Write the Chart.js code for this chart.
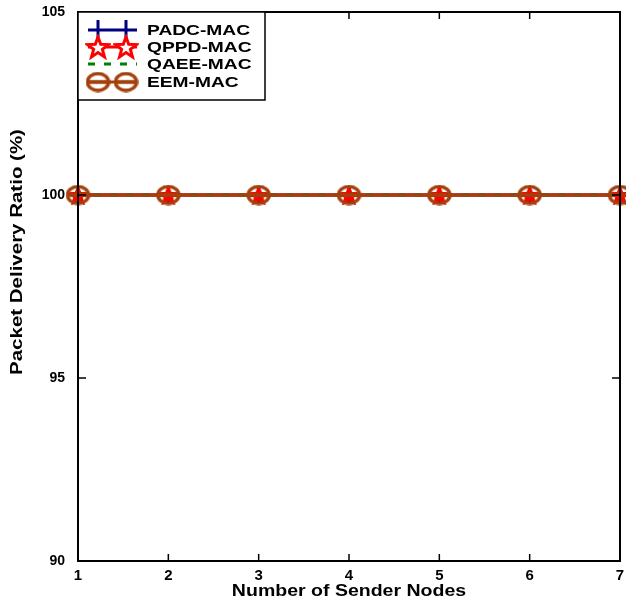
<!DOCTYPE html>
<html>
<head>
<meta charset="utf-8">
<script src="https://cdn.jsdelivr.net/npm/chart.js@4.4.0/dist/chart.umd.min.js"></script>
<style>
  html, body { margin: 0; padding: 0; background: #fff; }
</style>
</head>
<body>
<canvas id="pdrChart" width="626" height="602"></canvas>
<script>
// x: number of sender nodes, y: packet delivery ratio (%)
var senderNodes = [1, 2, 3, 4, 5, 6, 7];
var padcMac = [100, 100, 100, 100, 100, 100, 100];
var qppdMac = [100, 100, 100, 100, 100, 100, 100];
var qaeeMac = [100, 100, 100, 100, 100, 100, 100];
var eemMac  = [100, 100, 100, 100, 100, 100, 100];
var yTicks = [90, 95, 100, 105];

var NAVY = '#000080', RED = '#ff0000', GREEN = '#008000', BROWN = '#a3400c';
var FONT = '"Liberation Sans", Arial, sans-serif';

// marker images
function starMarker(size, fill) {
    var c = document.createElement('canvas');
    c.width = c.height = size;
    var g = c.getContext('2d');
    var cx = size / 2, cy = size / 2 + 1, ro = size / 2 - 2, ri = ro * 0.42;
    g.beginPath();
    for (var i = 0; i < 10; i++) {
        var r = i % 2 === 0 ? ro : ri;
        var a = -Math.PI / 2 + i * Math.PI / 5;
        g.lineTo(cx + r * Math.cos(a), cy + r * Math.sin(a));
    }
    g.closePath();
    g.fillStyle = fill;
    g.fill();
    g.lineWidth = 3;
    g.strokeStyle = RED;
    g.stroke();
    return c;
}

function thetaMarker(w, h) {
    var c = document.createElement('canvas');
    c.width = w; c.height = h;
    var g = c.getContext('2d');
    g.strokeStyle = BROWN;
    g.lineWidth = 3.5;
    g.beginPath();
    g.ellipse(w / 2, h / 2, w / 2 - 2, h / 2 - 2, 0, 0, Math.PI * 2);
    g.stroke();
    g.beginPath();
    g.moveTo(2, h / 2);
    g.lineTo(w - 2, h / 2);
    g.stroke();
    return c;
}

var starImg = starMarker(20, RED);
var starLegendImg = starMarker(26, '#fff');
var thetaImg = thetaMarker(25, 21);

function toPoints(ys) {
    return senderNodes.map(function (x, i) { return { x: x, y: ys[i] }; });
}

// stretched bold text (the labels are drawn wider than the font's own width)
function wideText(ctx, text, x, y, sx) {
    ctx.save();
    ctx.translate(x, y);
    ctx.scale(sx, 1);
    ctx.fillText(text, 0, 0);
    ctx.restore();
}

// box around the plot with inward ticks
var framePlugin = {
    id: 'frame',
    afterDatasetsDraw: function (chart) {
        var ctx = chart.ctx, a = chart.chartArea;
        var xs = chart.scales.x, ys = chart.scales.y;
        ctx.save();
        ctx.strokeStyle = '#000';
        ctx.lineWidth = 2;
        ctx.strokeRect(a.left, a.top, a.right - a.left, a.bottom - a.top);
        ctx.lineWidth = 1.5;
        ctx.beginPath();
        senderNodes.forEach(function (v) {
            var px = xs.getPixelForValue(v);
            ctx.moveTo(px, a.bottom); ctx.lineTo(px, a.bottom - 7);
            ctx.moveTo(px, a.top); ctx.lineTo(px, a.top + 7);
        });
        yTicks.forEach(function (v) {
            var py = ys.getPixelForValue(v);
            ctx.moveTo(a.left, py); ctx.lineTo(a.left + 8, py);
            ctx.moveTo(a.right, py); ctx.lineTo(a.right - 8, py);
        });
        ctx.stroke();
        ctx.restore();
    }
};

// legend box in the top-left corner and axis titles
var legendPlugin = {
    id: 'boxLegend',
    afterDraw: function (chart) {
        var ctx = chart.ctx, a = chart.chartArea;
        ctx.save();
        var bx = a.left, by = a.top, bw = 187, bh = 88;
        ctx.fillStyle = '#fff';
        ctx.fillRect(bx, by, bw, bh);
        ctx.strokeStyle = '#000';
        ctx.lineWidth = 1.5;
        ctx.strokeRect(bx, by, bw, bh);

        var rows = [
            { label: 'PADC-MAC', y: by + 18 },
            { label: 'QPPD-MAC', y: by + 35 },
            { label: 'QAEE-MAC', y: by + 52 },
            { label: 'EEM-MAC',  y: by + 70 }
        ];
        var x0 = bx + 10, x1 = bx + 59, m1 = bx + 20, m2 = bx + 48;

        // PADC: navy line with plus markers
        ctx.strokeStyle = NAVY; ctx.lineWidth = 3;
        ctx.beginPath();
        ctx.moveTo(x0, rows[0].y); ctx.lineTo(x1, rows[0].y);
        [m1, m2].forEach(function (m) {
            ctx.moveTo(m, rows[0].y - 10); ctx.lineTo(m, rows[0].y + 10);
        });
        ctx.stroke();

        // QPPD: red line with stars
        ctx.strokeStyle = RED;
        ctx.beginPath();
        ctx.moveTo(x0, rows[1].y); ctx.lineTo(x1, rows[1].y);
        ctx.stroke();
        [m1, m2].forEach(function (m) {
            ctx.drawImage(starLegendImg, m - 13, rows[1].y - 13);
        });

        // QAEE: green dashed
        ctx.strokeStyle = GREEN;
        ctx.setLineDash([7, 9]);
        ctx.beginPath();
        ctx.moveTo(x0, rows[2].y); ctx.lineTo(x1, rows[2].y);
        ctx.stroke();
        ctx.setLineDash([]);

        // EEM: brown line with theta markers
        ctx.strokeStyle = BROWN;
        ctx.beginPath();
        ctx.moveTo(x0, rows[3].y); ctx.lineTo(x1, rows[3].y);
        ctx.stroke();
        [m1, m2].forEach(function (m) {
            ctx.drawImage(thetaImg, m - 12.5, rows[3].y - 10.5);
        });

        ctx.fillStyle = '#000';
        ctx.font = 'bold 15px ' + FONT;
        ctx.textBaseline = 'middle';
        ctx.textAlign = 'left';
        rows.forEach(function (r) { wideText(ctx, r.label, bx + 69, r.y + 1, 1.28); });

        // axis titles
        ctx.font = 'bold 16px ' + FONT;
        ctx.textAlign = 'center';
        wideText(ctx, 'Number of Sender Nodes', (a.left + a.right) / 2, 592, 1.22);
        ctx.translate(18, 252);
        ctx.rotate(-Math.PI / 2);
        wideText(ctx, 'Packet Delivery Ratio (%)', 0, 0, 1.28);
        ctx.restore();
    }
};

var ctx = document.getElementById('pdrChart').getContext('2d');

// lower order is drawn last, so EEM-MAC sits on top
var chart = new Chart(ctx, {
    type: 'line',
    data: {
        datasets: [{
            label: 'PADC-MAC',
            data: toPoints(padcMac),
            borderColor: NAVY,
            borderWidth: 3,
            pointStyle: 'cross',
            pointRadius: 8,
            pointBorderColor: NAVY,
            pointBorderWidth: 3,
            order: 4
        }, {
            label: 'QPPD-MAC',
            data: toPoints(qppdMac),
            borderColor: RED,
            borderWidth: 3,
            pointStyle: starImg,
            order: 3
        }, {
            label: 'QAEE-MAC',
            data: toPoints(qaeeMac),
            borderColor: GREEN,
            borderWidth: 3,
            borderDash: [7, 9],
            pointRadius: 0,
            order: 2
        }, {
            label: 'EEM-MAC',
            data: toPoints(eemMac),
            borderColor: BROWN,
            borderWidth: 3,
            pointStyle: thetaImg,
            order: 1
        }]
    },
    options: {
        responsive: false,
        animation: false,
        clip: false,
        layout: {
            autoPadding: false,
            padding: { top: 12, right: 6, left: 0, bottom: 0 }
        },
        plugins: {
            legend: { display: false },
            tooltip: { enabled: false }
        },
        scales: {
            x: {
                type: 'linear',
                min: 1,
                max: 7,
                afterFit: function (s) {
                    s.height = 41;
                    s.paddingLeft = 0;
                    s.paddingRight = 0;
                },
                afterBuildTicks: function (s) {
                    s.ticks = senderNodes.map(function (v) { return { value: v }; });
                },
                grid: { display: false, drawTicks: false },
                border: { display: false },
                ticks: {
                    padding: 6,
                    color: '#000',
                    font: { family: FONT, size: 15, weight: 'bold' }
                }
            },
            y: {
                min: 90,
                max: 105,
                afterFit: function (s) {
                    s.width = 78;
                    s.paddingTop = 0;
                    s.paddingBottom = 0;
                },
                afterBuildTicks: function (s) {
                    s.ticks = yTicks.map(function (v) { return { value: v }; });
                },
                grid: { display: false, drawTicks: false },
                border: { display: false },
                ticks: {
                    padding: 13,
                    color: '#000',
                    font: { family: FONT, size: 14, weight: 'bold' }
                }
            }
        }
    },
    plugins: [framePlugin, legendPlugin]
});
</script>
</body>
</html>
